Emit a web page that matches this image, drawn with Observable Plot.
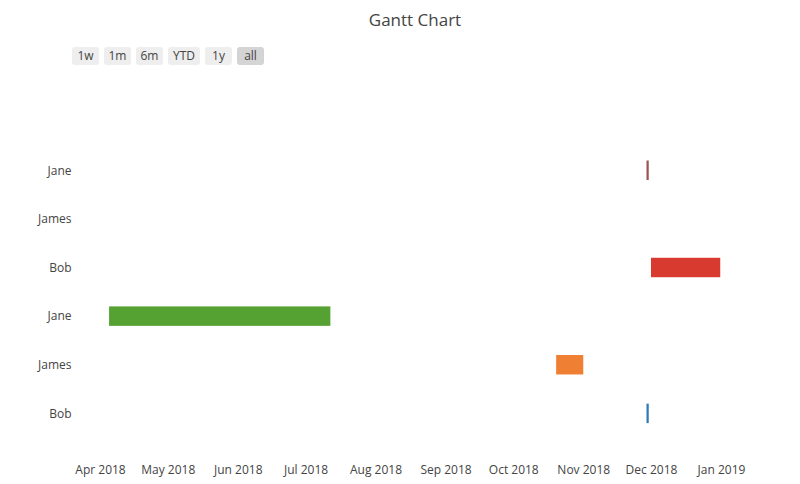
<!DOCTYPE html>
<html>
<head>
<meta charset="utf-8">
<script src="https://cdn.jsdelivr.net/npm/d3@7"></script>
<script src="https://cdn.jsdelivr.net/npm/@observablehq/plot@0.6"></script>
<style>
  html, body { margin: 0; padding: 0; background: #fff; }
  #wrap { position: relative; width: 800px; height: 484px; font-family: "Open Sans", Verdana, sans-serif; color: #444; }
  #title { position: absolute; left: 0; width: 830px; top: 8px; text-align: center; font-size: 17px; color: #444; }
  #buttons { position: absolute; left: 72px; top: 47px; display: flex; gap: 5px; }
  .btn { background: #eeeeee; border-radius: 3px; font-size: 12px; color: #444; height: 18px; line-height: 18px; text-align: center; width: 27px; }
  .btn.wide { width: 32px; }
  .btn.active { background: #d4d4d4; }
  #chart { position: absolute; left: 0; top: 0; }
</style>
</head>
<body>
<div id="wrap">
  <div id="chart"></div>
  <div id="title">Gantt Chart</div>
  <div id="buttons"></div>
</div>
<script>
const tasks = ["Bob", "James", "Jane", "Bob", "James", "Jane"];
const starts = ["2018-11-29", "2018-10-20", "2018-04-05", "2018-12-01", "2018-12-01", "2018-11-29"];
const finishes = ["2018-11-30", "2018-11-01", "2018-07-12", "2018-12-31T16:00Z", "2018-12-01", "2018-11-30"];
const colors = ["#2f7bb8", "#ef7f33", "#55a232", "#d93a2f", "#9467bd", "#9a5550"];
const buttonLabels = ["1w", "1m", "6m", "YTD", "1y", "all"];
const monthTicks = ["2018-04-01", "2018-05-01", "2018-06-01", "2018-07-01", "2018-08-01", "2018-09-01", "2018-10-01", "2018-11-01", "2018-12-01", "2019-01-01"];

const data = tasks.map((t, i) => ({
  i, task: t, start: new Date(starts[i]), finish: new Date(finishes[i]), color: colors[i]
}));

const btns = document.getElementById("buttons");
buttonLabels.forEach((b, k) => {
  const d = document.createElement("div");
  d.className = "btn" + (b === "YTD" ? " wide" : "") + (k === buttonLabels.length - 1 ? " active" : "");
  d.textContent = b;
  btns.appendChild(d);
});

const chart = Plot.plot({
  width: 800,
  height: 484,
  marginLeft: 80,
  marginRight: 60,
  marginTop: 73,
  marginBottom: 22,
  style: { fontFamily: "'Open Sans', Verdana, sans-serif", fontSize: "12px", color: "#444", background: "#fff" },
  x: {
    type: "utc",
    domain: [new Date(Date.UTC(2018, 2, 23, 3)), new Date(Date.UTC(2019, 0, 9, 10))],
    ticks: monthTicks.map(d => new Date(d)),
    tickFormat: d3.utcFormat("%b %Y"),
    tickSize: 0,
    tickPadding: 3,
    label: null
  },
  y: {
    type: "linear",
    domain: [-1, 7],
    ticks: d3.range(tasks.length),
    tickFormat: i => tasks[i],
    tickSize: 0,
    tickPadding: 9,
    label: null
  },
  marks: [
    Plot.rect(data, {
      x1: "start", x2: "finish",
      y1: d => d.i - 0.2, y2: d => d.i + 0.2,
      fill: d => d.color
    })
  ]
});
document.getElementById("chart").appendChild(chart);
</script>
</body>
</html>
